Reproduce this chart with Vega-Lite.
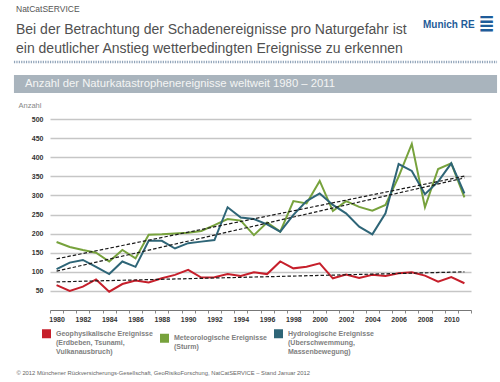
{
  "$schema": "https://vega.github.io/schema/vega-lite/v6.json",
  "width": 421,
  "height": 191,
  "autosize": {"type": "none"},
  "padding": {"left": 50, "top": 119, "right": 29, "bottom": 72},
  "background": "white",
  "title": {
    "text": "NatCatSERVICE",
    "subtitle": ["Bei der Betrachtung der Schadenereignisse pro Naturgefahr ist", "ein deutlicher Anstieg wetterbedingten Ereignisse zu erkennen"],
    "anchor": "start",
    "frame": "group",
    "dx": -34,
    "offset": -41.7,
    "font": "Liberation Sans",
    "fontSize": 8.5,
    "fontWeight": "normal",
    "color": "#555555",
    "subtitleFont": "Liberation Sans",
    "subtitleFontSize": 14,
    "subtitleColor": "#505050",
    "subtitleLineHeight": 19,
    "subtitlePadding": 9.5
  },
  "resolve": {
    "scale": {"x": "independent", "y": "independent"},
    "axis": {"x": "independent", "y": "independent"}
  },
  "datasets": {
    "events": [
      {"year": 1980, "series": "Geophysikalische Ereignisse", "value": 65},
      {"year": 1981, "series": "Geophysikalische Ereignisse", "value": 50},
      {"year": 1982, "series": "Geophysikalische Ereignisse", "value": 61},
      {"year": 1983, "series": "Geophysikalische Ereignisse", "value": 80},
      {"year": 1984, "series": "Geophysikalische Ereignisse", "value": 48},
      {"year": 1985, "series": "Geophysikalische Ereignisse", "value": 68},
      {"year": 1986, "series": "Geophysikalische Ereignisse", "value": 77},
      {"year": 1987, "series": "Geophysikalische Ereignisse", "value": 72},
      {"year": 1988, "series": "Geophysikalische Ereignisse", "value": 83},
      {"year": 1989, "series": "Geophysikalische Ereignisse", "value": 92},
      {"year": 1990, "series": "Geophysikalische Ereignisse", "value": 105},
      {"year": 1991, "series": "Geophysikalische Ereignisse", "value": 85},
      {"year": 1992, "series": "Geophysikalische Ereignisse", "value": 86},
      {"year": 1993, "series": "Geophysikalische Ereignisse", "value": 94},
      {"year": 1994, "series": "Geophysikalische Ereignisse", "value": 89},
      {"year": 1995, "series": "Geophysikalische Ereignisse", "value": 99},
      {"year": 1996, "series": "Geophysikalische Ereignisse", "value": 94},
      {"year": 1997, "series": "Geophysikalische Ereignisse", "value": 127},
      {"year": 1998, "series": "Geophysikalische Ereignisse", "value": 109},
      {"year": 1999, "series": "Geophysikalische Ereignisse", "value": 113},
      {"year": 2000, "series": "Geophysikalische Ereignisse", "value": 122},
      {"year": 2001, "series": "Geophysikalische Ereignisse", "value": 83},
      {"year": 2002, "series": "Geophysikalische Ereignisse", "value": 93},
      {"year": 2003, "series": "Geophysikalische Ereignisse", "value": 84},
      {"year": 2004, "series": "Geophysikalische Ereignisse", "value": 92},
      {"year": 2005, "series": "Geophysikalische Ereignisse", "value": 89},
      {"year": 2006, "series": "Geophysikalische Ereignisse", "value": 96},
      {"year": 2007, "series": "Geophysikalische Ereignisse", "value": 99},
      {"year": 2008, "series": "Geophysikalische Ereignisse", "value": 90},
      {"year": 2009, "series": "Geophysikalische Ereignisse", "value": 74},
      {"year": 2010, "series": "Geophysikalische Ereignisse", "value": 86},
      {"year": 2011, "series": "Geophysikalische Ereignisse", "value": 70},
      {"year": 1980, "series": "Meteorologische Ereignisse", "value": 178},
      {"year": 1981, "series": "Meteorologische Ereignisse", "value": 165},
      {"year": 1982, "series": "Meteorologische Ereignisse", "value": 157},
      {"year": 1983, "series": "Meteorologische Ereignisse", "value": 150},
      {"year": 1984, "series": "Meteorologische Ereignisse", "value": 127},
      {"year": 1985, "series": "Meteorologische Ereignisse", "value": 157},
      {"year": 1986, "series": "Meteorologische Ereignisse", "value": 135},
      {"year": 1987, "series": "Meteorologische Ereignisse", "value": 197},
      {"year": 1988, "series": "Meteorologische Ereignisse", "value": 198},
      {"year": 1989, "series": "Meteorologische Ereignisse", "value": 200},
      {"year": 1990, "series": "Meteorologische Ereignisse", "value": 202},
      {"year": 1991, "series": "Meteorologische Ereignisse", "value": 207},
      {"year": 1992, "series": "Meteorologische Ereignisse", "value": 222},
      {"year": 1993, "series": "Meteorologische Ereignisse", "value": 238},
      {"year": 1994, "series": "Meteorologische Ereignisse", "value": 234},
      {"year": 1995, "series": "Meteorologische Ereignisse", "value": 196},
      {"year": 1996, "series": "Meteorologische Ereignisse", "value": 229},
      {"year": 1997, "series": "Meteorologische Ereignisse", "value": 205},
      {"year": 1998, "series": "Meteorologische Ereignisse", "value": 285},
      {"year": 1999, "series": "Meteorologische Ereignisse", "value": 279},
      {"year": 2000, "series": "Meteorologische Ereignisse", "value": 338},
      {"year": 2001, "series": "Meteorologische Ereignisse", "value": 259},
      {"year": 2002, "series": "Meteorologische Ereignisse", "value": 285},
      {"year": 2003, "series": "Meteorologische Ereignisse", "value": 270},
      {"year": 2004, "series": "Meteorologische Ereignisse", "value": 260},
      {"year": 2005, "series": "Meteorologische Ereignisse", "value": 275},
      {"year": 2006, "series": "Meteorologische Ereignisse", "value": 349},
      {"year": 2007, "series": "Meteorologische Ereignisse", "value": 435},
      {"year": 2008, "series": "Meteorologische Ereignisse", "value": 269},
      {"year": 2009, "series": "Meteorologische Ereignisse", "value": 369},
      {"year": 2010, "series": "Meteorologische Ereignisse", "value": 384},
      {"year": 2011, "series": "Meteorologische Ereignisse", "value": 295},
      {"year": 1980, "series": "Hydrologische Ereignisse", "value": 107},
      {"year": 1981, "series": "Hydrologische Ereignisse", "value": 124},
      {"year": 1982, "series": "Hydrologische Ereignisse", "value": 131},
      {"year": 1983, "series": "Hydrologische Ereignisse", "value": 113},
      {"year": 1984, "series": "Hydrologische Ereignisse", "value": 94},
      {"year": 1985, "series": "Hydrologische Ereignisse", "value": 127},
      {"year": 1986, "series": "Hydrologische Ereignisse", "value": 113},
      {"year": 1987, "series": "Hydrologische Ereignisse", "value": 181},
      {"year": 1988, "series": "Hydrologische Ereignisse", "value": 181},
      {"year": 1989, "series": "Hydrologische Ereignisse", "value": 161},
      {"year": 1990, "series": "Hydrologische Ereignisse", "value": 175},
      {"year": 1991, "series": "Hydrologische Ereignisse", "value": 179},
      {"year": 1992, "series": "Hydrologische Ereignisse", "value": 183},
      {"year": 1993, "series": "Hydrologische Ereignisse", "value": 269},
      {"year": 1994, "series": "Hydrologische Ereignisse", "value": 242},
      {"year": 1995, "series": "Hydrologische Ereignisse", "value": 238},
      {"year": 1996, "series": "Hydrologische Ereignisse", "value": 224},
      {"year": 1997, "series": "Hydrologische Ereignisse", "value": 205},
      {"year": 1998, "series": "Hydrologische Ereignisse", "value": 249},
      {"year": 1999, "series": "Hydrologische Ereignisse", "value": 285},
      {"year": 2000, "series": "Hydrologische Ereignisse", "value": 305},
      {"year": 2001, "series": "Hydrologische Ereignisse", "value": 275},
      {"year": 2002, "series": "Hydrologische Ereignisse", "value": 253},
      {"year": 2003, "series": "Hydrologische Ereignisse", "value": 218},
      {"year": 2004, "series": "Hydrologische Ereignisse", "value": 198},
      {"year": 2005, "series": "Hydrologische Ereignisse", "value": 253},
      {"year": 2006, "series": "Hydrologische Ereignisse", "value": 382},
      {"year": 2007, "series": "Hydrologische Ereignisse", "value": 364},
      {"year": 2008, "series": "Hydrologische Ereignisse", "value": 303},
      {"year": 2009, "series": "Hydrologische Ereignisse", "value": 336},
      {"year": 2010, "series": "Hydrologische Ereignisse", "value": 384},
      {"year": 2011, "series": "Hydrologische Ereignisse", "value": 305}
    ]
  },
  "layer": [
    {
      "data": {"name": "events"},
      "mark": {"type": "line", "strokeWidth": 2},
      "encoding": {
        "x": {
          "field": "year",
          "type": "quantitative",
          "scale": {"domain": [1979.5, 2011.5], "nice": false, "zero": false},
          "axis": {
            "values": [1979.5, 1980, 1980.5, 1981.5, 1982, 1982.5, 1983.5, 1984, 1984.5, 1985.5, 1986, 1986.5, 1987.5, 1988, 1988.5, 1989.5, 1990, 1990.5, 1991.5, 1992, 1992.5, 1993.5, 1994, 1994.5, 1995.5, 1996, 1996.5, 1997.5, 1998, 1998.5, 1999.5, 2000, 2000.5, 2001.5, 2002, 2002.5, 2003.5, 2004, 2004.5, 2005.5, 2006, 2006.5, 2007.5, 2008, 2008.5, 2009.5, 2010, 2010.5, 2011.5],
            "labelExpr": "datum.value % 2 == 0 ? datum.value : ''",
            "labelOverlap": false,
            "labelFlush": false,
            "labelBound": false,
            "tickOpacity": {"condition": {"test": "datum.value % 1 == 0", "value": 0}, "value": 1},
            "tickSize": 3,
            "tickColor": "#888888",
            "domainColor": "#777777",
            "grid": false,
            "labelFont": "Liberation Sans",
            "labelFontSize": 7,
            "labelFontWeight": "bold",
            "labelColor": "#333333",
            "labelPadding": 2,
            "title": "© 2012 Münchener Rückversicherungs-Gesellschaft, GeoRisikoForschung, NatCatSERVICE – Stand Januar 2012",
            "titleX": -34,
            "titleY": 62,
            "titleAlign": "left",
            "titleBaseline": "middle",
            "titleFont": "Liberation Sans",
            "titleFontSize": 5.8,
            "titleFontWeight": "normal",
            "titleColor": "#666666"
          }
        },
        "y": {
          "field": "value",
          "type": "quantitative",
          "scale": {"domain": [0, 500], "nice": false},
          "axis": {
            "values": [50, 100, 150, 200, 250, 300, 350, 400, 450, 500],
            "labelOverlap": false,
            "domain": false,
            "ticks": false,
            "grid": true,
            "gridColor": "#c6c6c6",
            "gridWidth": 1.3,
            "labelFont": "Liberation Sans",
            "labelFontSize": 7,
            "labelFontWeight": "bold",
            "labelColor": "#333333",
            "labelPadding": 7,
            "title": "Anzahl",
            "titleAngle": 0,
            "titleX": -32,
            "titleY": -14,
            "titleAlign": "left",
            "titleBaseline": "middle",
            "titleFont": "Liberation Sans",
            "titleFontSize": 7.5,
            "titleFontWeight": "normal",
            "titleColor": "#888888"
          }
        },
        "color": {
          "field": "series",
          "type": "nominal",
          "scale": {
            "domain": ["Geophysikalische Ereignisse", "Meteorologische Ereignisse", "Hydrologische Ereignisse"],
            "range": ["#c61f2b", "#77a23c", "#2e6577"]
          },
          "legend": {
            "orient": "none",
            "legendX": -8,
            "legendY": 210,
            "direction": "horizontal",
            "columns": 3,
            "columnPadding": 7,
            "padding": 0,
            "title": null,
            "symbolType": "square",
            "symbolSize": 81,
            "symbolStrokeWidth": 0,
            "labelOffset": 5,
            "labelFont": "Liberation Sans",
            "labelFontSize": 7,
            "labelFontWeight": "bold",
            "labelColor": "#808080",
            "labelLineHeight": 8.5,
            "labelBaseline": "top",
            "labelLimit": 200,
            "labelExpr": "datum.label == 'Geophysikalische Ereignisse' ? ['Geophysikalische Ereignisse', '(Erdbeben, Tsunami,', 'Vulkanausbruch)'] : datum.label == 'Meteorologische Ereignisse' ? ['Meteorologische Ereignisse', '(Sturm)'] : ['Hydrologische Ereignisse', '(Überschwemmung,', 'Massenbewegung)']",
            "encode": {
              "symbols": {"update": {"fill": {"scale": "color", "field": "value"}, "strokeWidth": {"value": 0}, "opacity": {"value": 1}}},
              "labels": {"update": {"dy": {"value": -4}}}
            }
          }
        }
      }
    },
    {
      "data": {"name": "events"},
      "transform": [{"regression": "value", "on": "year", "groupby": ["series"]}],
      "mark": {"type": "line", "color": "#1a1a1a", "strokeWidth": 1.2, "strokeDash": [3.5, 2]},
      "encoding": {
        "x": {"field": "year", "type": "quantitative", "scale": {"domain": [1979.5, 2011.5], "nice": false, "zero": false}, "axis": null},
        "y": {"field": "value", "type": "quantitative", "scale": {"domain": [0, 500], "nice": false}, "axis": null},
        "detail": {"field": "series"}
      }
    },
    {
      "data": {"values": [{}]},
      "mark": {"type": "rect", "color": "#a9b4bd"},
      "encoding": {
        "x": {"datum": 1976.76, "type": "quantitative", "scale": {"domain": [1979.5, 2011.5], "nice": false, "zero": false}, "axis": null},
        "x2": {"datum": 2013.48},
        "y": {"datum": 615, "type": "quantitative", "scale": {"domain": [0, 500], "nice": false}, "axis": null},
        "y2": {"datum": 568}
      }
    },
    {
      "data": {"values": [{}]},
      "mark": {"type": "text", "text": "Anzahl der Naturkatastrophenereignisse weltweit 1980 – 2011", "align": "left", "baseline": "middle", "font": "Liberation Sans", "fontSize": 11.3, "color": "#f4f4f4"},
      "encoding": {
        "x": {"datum": 1977.6, "type": "quantitative", "scale": {"domain": [1979.5, 2011.5], "nice": false, "zero": false}, "axis": null},
        "y": {"datum": 591.6, "type": "quantitative", "scale": {"domain": [0, 500], "nice": false}, "axis": null}
      }
    },
    {
      "data": {"values": [{}]},
      "mark": {"type": "rule", "color": "#8fa3b8", "strokeWidth": 2.5, "strokeDash": [1.2, 1.2]},
      "encoding": {
        "x": {"datum": 1976.76, "type": "quantitative", "scale": {"domain": [1979.5, 2011.5], "nice": false, "zero": false}, "axis": null},
        "x2": {"datum": 2013.48},
        "y": {"datum": 649.2, "type": "quantitative", "scale": {"domain": [0, 500], "nice": false}, "axis": null}
      }
    },
    {
      "data": {"values": [{}]},
      "mark": {"type": "text", "text": "Munich RE", "align": "left", "baseline": "middle", "font": "Liberation Sans", "fontSize": 10, "fontWeight": "bold", "color": "#1f5c99"},
      "encoding": {
        "x": {"datum": 2007.85, "type": "quantitative", "scale": {"domain": [1979.5, 2011.5], "nice": false, "zero": false}, "axis": null},
        "y": {"datum": 746.1, "type": "quantitative", "scale": {"domain": [0, 500], "nice": false}, "axis": null}
      }
    },
    {
      "data": {"values": [{}]},
      "mark": {"type": "text", "text": "≣", "align": "center", "baseline": "middle", "font": "DejaVu Sans", "fontSize": 20, "fontWeight": "bold", "color": "#1f5c99"},
      "encoding": {
        "x": {"datum": 2012.68, "type": "quantitative", "scale": {"domain": [1979.5, 2011.5], "nice": false, "zero": false}, "axis": null},
        "y": {"datum": 748.7, "type": "quantitative", "scale": {"domain": [0, 500], "nice": false}, "axis": null}
      }
    }
  ],
  "config": {
    "view": {"stroke": null},
    "font": "Liberation Sans"
  }
}
